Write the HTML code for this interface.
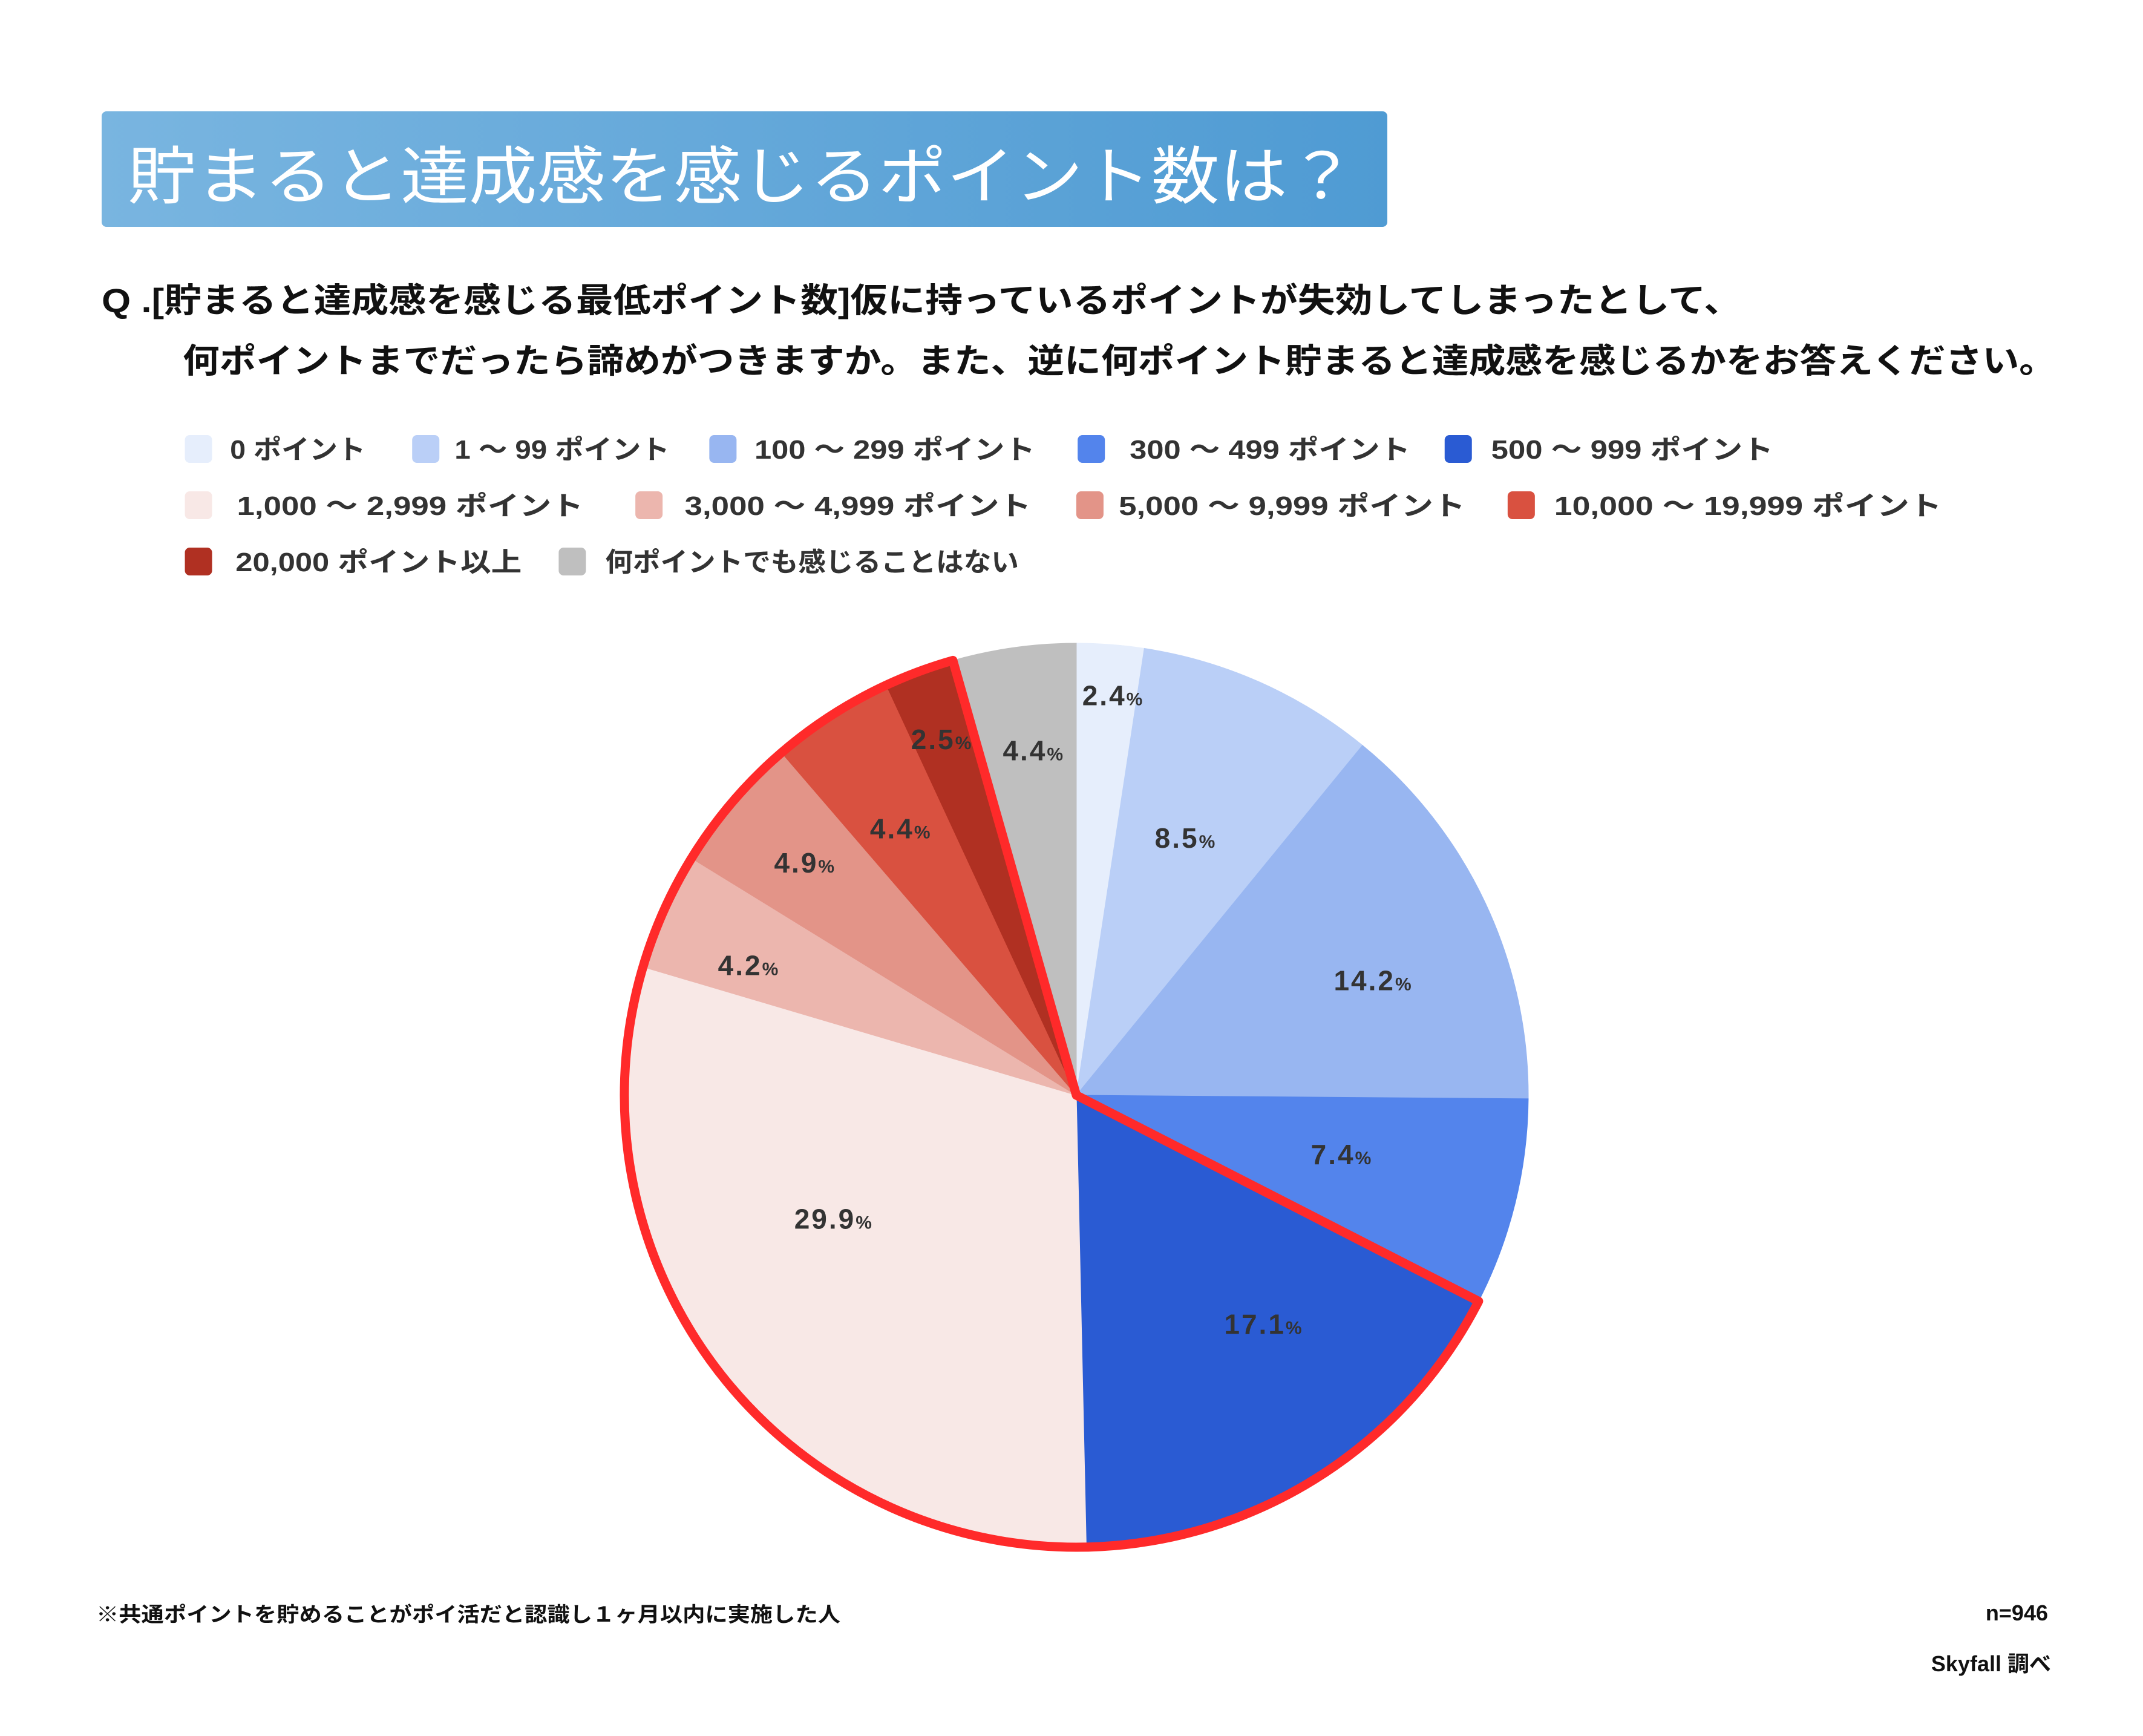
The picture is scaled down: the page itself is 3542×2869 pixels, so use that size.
<!DOCTYPE html>
<html><head><meta charset="utf-8">
<style>
html,body{margin:0;padding:0;background:#fff;}
svg{display:block;}
text{font-family:"Liberation Sans","Noto Sans CJK JP",sans-serif;}
</style></head>
<body>
<svg id="s" width="3542" height="2869" viewBox="0 0 3542 2869" xmlns="http://www.w3.org/2000/svg">
<defs>
<linearGradient id="g" x1="0" x2="1" y1="0" y2="0">
<stop offset="0" stop-color="#79b5e0"/><stop offset="1" stop-color="#4f9bd3"/>
</linearGradient>
</defs>
<rect x="168" y="184" width="2125" height="191" rx="8" fill="url(#g)"/>
<text x="211" y="328" font-size="104" fill="#fff" textLength="2030" lengthAdjust="spacingAndGlyphs">貯まると達成感を感じるポイント数は？</text>
<text x="168" y="516" font-size="56" font-weight="bold" fill="#111" textLength="2710" lengthAdjust="spacingAndGlyphs">Q .[貯まると達成感を感じる最低ポイント数]仮に持っているポイントが失効してしまったとして、</text>
<text x="302" y="616" font-size="56" font-weight="bold" fill="#111" textLength="3096" lengthAdjust="spacingAndGlyphs">何ポイントまでだったら諦めがつきますか。また、逆に何ポイント貯まると達成感を感じるかをお答えください。</text>
<g id="legend" font-size="44" font-weight="bold" fill="#333"></g>
<g id="pie"></g>
<g id="labels" font-size="46" font-weight="bold" fill="#333"></g>
<text x="159" y="2680" font-size="34" font-weight="bold" fill="#111" textLength="1230" lengthAdjust="spacingAndGlyphs">※共通ポイントを貯めることがポイ活だと認識し１ヶ月以内に実施した人</text>
<text x="3385" y="2678" font-size="36" font-weight="bold" fill="#111" text-anchor="end">n=946</text>
<text x="3390" y="2762" font-size="36" font-weight="bold" fill="#111" text-anchor="end">Skyfall 調べ</text>
</svg>
<script>
var NS="http://www.w3.org/2000/svg";
function el(t,a,p,txt){var e=document.createElementNS(NS,t);for(var k in a)e.setAttribute(k,a[k]);if(txt!==undefined)e.textContent=txt;p.appendChild(e);return e;}
var cols=["#e6eefc","#bacff7","#98b6f1","#5384ec","#2a5bd3","#f8e8e6","#ecb6ae","#e39488","#d95140","#b03022","#bfbfbf"];
var lg=document.getElementById("legend");
var items=[
[135,168,267,742,"0 ポイント",0],[301,332,489,742,"1 ～ 99 ポイント",1],[518,551,756,742,"100 ～ 299 ポイント",2],[787,825,1030,742,"300 ～ 499 ポイント",3],[1055,1089,1295,742,"500 ～ 999 ポイント",4],
[135,173,426,835,"1,000 ～ 2,999 ポイント",5],[464,500,753,835,"3,000 ～ 4,999 ポイント",6],[786,817,1070,835,"5,000 ～ 9,999 ポイント",7],[1101,1135,1418,835,"10,000 ～ 19,999 ポイント",8],
[135,172,381,928,"20,000 ポイント以上",9],[408,442,744,928,"何ポイントでも感じることはない",10]];
var k=3542/1565;
items.forEach(function(it){
 el("rect",{x:it[0]*k,y:it[3]-23,width:45,height:46,rx:8,fill:cols[it[5]]},lg);
 el("text",{x:it[1]*k,y:it[3]+16,textLength:(it[2]-it[1])*k,lengthAdjust:"spacingAndGlyphs"},lg,it[4]);
});
var cx=1779,cy=1810,r=747;
var v=[2.4,8.5,14.2,7.4,17.1,29.9,4.2,4.9,4.4,2.5,4.4],tot=99.9;
function pt(f,rr){var a=f/tot*2*Math.PI-Math.PI/2;return [cx+rr*Math.cos(a),cy+rr*Math.sin(a)];}
var pie=document.getElementById("pie"),c=0,starts=[];
v.forEach(function(x,i){
 var s=pt(c,r),e=pt(c+x,r);starts.push(c);
 var lf=x/tot>0.5?1:0;
 el("path",{d:"M"+cx+","+cy+"L"+s[0]+","+s[1]+"A"+r+","+r+" 0 "+lf+" 1 "+e[0]+","+e[1]+"Z",fill:cols[i],stroke:cols[i],"stroke-width":1},pie);
 c+=x;
});
var a0=starts[4],a1=starts[9]+v[9];
var s=pt(a0,r),e=pt(a1,r);
el("path",{d:"M"+cx+","+cy+"L"+s[0]+","+s[1]+"A"+r+","+r+" 0 1 1 "+e[0]+","+e[1]+"Z",fill:"none",stroke:"#ff2a2a","stroke-width":15,"stroke-linejoin":"round"},pie);
var lb=[[813,508,"2.4"],[866,612,"8.5"],[1003,716,"14.2"],[980,843,"7.4"],[923,967,"17.1"],[609,890,"29.9"],[547,705,"4.2"],[588,630,"4.9"],[658,605,"4.4"],[688,540,"2.5"],[755,548,"4.4"]];
var L=document.getElementById("labels");
lb.forEach(function(b){
 var t=el("text",{x:b[0]*k,y:b[1]*k+16,"text-anchor":"middle","letter-spacing":"3"},L);
 var t1=document.createElementNS(NS,"tspan");t1.textContent=b[2];t.appendChild(t1);
 var t2=document.createElementNS(NS,"tspan");t2.setAttribute("font-size","30");t2.textContent="%";t.appendChild(t2);
});
</script>
</body></html>
